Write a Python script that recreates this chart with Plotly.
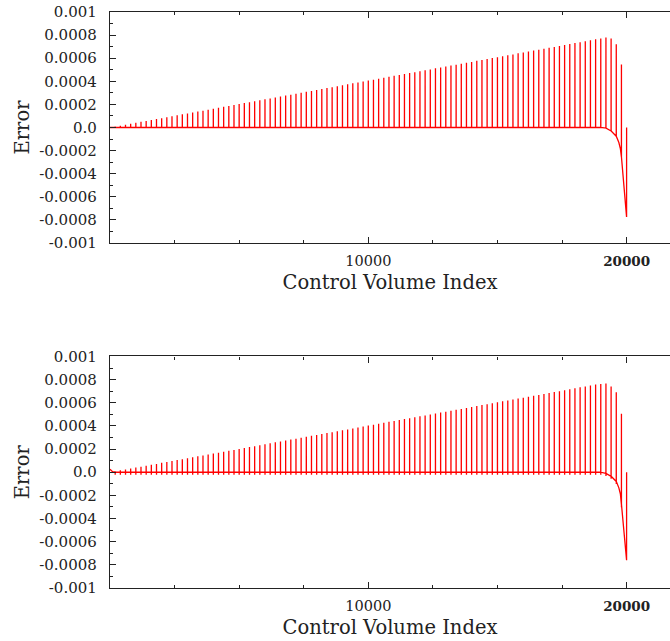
import plotly.graph_objects as go

# ---------------- data (error values in units of 1e-4) ----------------
spike_index = list(range(200, 19801, 200))   # control volume index of every spike (k = 1..99)

top_peaks_e4 = [
    0.08, 0.16, 0.24, 0.32, 0.41, 0.49, 0.57, 0.65, 0.73, 0.81,
    0.89, 0.97, 1.06, 1.14, 1.22, 1.30, 1.38, 1.46, 1.54, 1.62,
    1.71, 1.79, 1.87, 1.95, 2.03, 2.11, 2.19, 2.27, 2.36, 2.44,
    2.52, 2.60, 2.68, 2.76, 2.84, 2.92, 3.00, 3.09, 3.17, 3.25,
    3.33, 3.41, 3.49, 3.57, 3.65, 3.74, 3.82, 3.90, 3.98, 4.06,
    4.14, 4.22, 4.30, 4.39, 4.47, 4.55, 4.63, 4.71, 4.79, 4.87,
    4.95, 5.03, 5.12, 5.20, 5.28, 5.36, 5.44, 5.52, 5.60, 5.68,
    5.77, 5.85, 5.93, 6.01, 6.09, 6.17, 6.25, 6.33, 6.42, 6.50,
    6.58, 6.66, 6.74, 6.82, 6.90, 6.98, 7.06, 7.15, 7.23, 7.31,
    7.39, 7.47, 7.55, 7.63, 7.71, 7.80, 7.70, 7.20, 5.45,
]
top_spike_base_e4 = [0.0] * 95 + [-0.05, -0.30, -0.76, -2.55]
top_start_x = [0]
top_start_e4 = [0.0]
top_tail_x = [19700, 19760, 19999, 20000]
top_tail_e4 = [-1.30, -1.85, -7.75, 0.0]

bottom_peaks_e4 = [
    0.08, 0.16, 0.24, 0.32, 0.40, 0.48, 0.56, 0.64, 0.72, 0.81,
    0.89, 0.97, 1.05, 1.13, 1.21, 1.29, 1.37, 1.45, 1.53, 1.61,
    1.69, 1.77, 1.85, 1.93, 2.01, 2.09, 2.17, 2.25, 2.33, 2.42,
    2.50, 2.58, 2.66, 2.74, 2.82, 2.90, 2.98, 3.06, 3.14, 3.22,
    3.30, 3.38, 3.46, 3.54, 3.62, 3.70, 3.78, 3.86, 3.94, 4.03,
    4.11, 4.19, 4.27, 4.35, 4.43, 4.51, 4.59, 4.67, 4.75, 4.83,
    4.91, 4.99, 5.07, 5.15, 5.23, 5.31, 5.39, 5.47, 5.55, 5.64,
    5.72, 5.80, 5.88, 5.96, 6.04, 6.12, 6.20, 6.28, 6.36, 6.44,
    6.52, 6.60, 6.68, 6.76, 6.84, 6.92, 7.00, 7.08, 7.16, 7.25,
    7.33, 7.41, 7.49, 7.57, 7.62, 7.67, 7.40, 6.90, 5.05,
]
bottom_spike_base_e4 = [0.0] * 95 + [-0.10, -0.35, -0.80, -2.80]
bottom_dip_e4 = -0.22
bottom_start_x = [0, 100]
bottom_start_e4 = [0.25, 0.05]
bottom_tail_x = [19700, 19760, 19999, 20000]
bottom_tail_e4 = [-1.35, -1.90, -7.60, 0.0]

y_tick_vals = [0.001, 0.0008, 0.0006, 0.0004, 0.0002, 0.0, -0.0002, -0.0004, -0.0006, -0.0008, -0.001]
y_tick_text = ["0.001", "0.0008", "0.0006", "0.0004", "0.0002", "0.0",
               "-0.0002", "-0.0004", "-0.0006", "-0.0008", "-0.001"]
x_tick_vals = [10000, 20000]
x_tick_text = ["10000", "<span style='font-size:13.5px'><b>20000</b></span>"]

SCALE = 1e-4


def build(start_x, start_e4, peaks, bases, tail_x, tail_e4, dip=None):
    pts = list(zip(start_x, start_e4))
    for xi, h, b in zip(spike_index, peaks, bases):
        pts.append((xi - 1, b))
        pts.append((xi, h))
        if dip is not None:
            pts.append((xi + 1, b + dip))
            pts.append((xi + 2, b))
        else:
            pts.append((xi + 1, b))
    pts += list(zip(tail_x, tail_e4))
    pts.sort(key=lambda p: p[0])
    return [p[0] for p in pts], [p[1] * SCALE for p in pts]


tx, ty = build(top_start_x, top_start_e4, top_peaks_e4, top_spike_base_e4, top_tail_x, top_tail_e4)
bx, by = build(bottom_start_x, bottom_start_e4, bottom_peaks_e4, bottom_spike_base_e4,
               bottom_tail_x, bottom_tail_e4, dip=bottom_dip_e4)

FONT = "DejaVu Serif"
RED = "#ff0000"
INK = "#222222"
W, H = 670, 641

fig = go.Figure()
fig.add_trace(go.Scatter(x=tx, y=ty, mode="lines", line=dict(color=RED, width=1.3),
                         xaxis="x", yaxis="y", showlegend=False, hoverinfo="skip"))
fig.add_trace(go.Scatter(x=bx, y=by, mode="lines", line=dict(color=RED, width=1.3),
                         xaxis="x2", yaxis="y2", showlegend=False, hoverinfo="skip"))


def xaxis_cfg(anchor):
    return dict(
        anchor=anchor, domain=[0, 1], range=[0, 21680],
        tickvals=x_tick_vals, ticktext=x_tick_text,
        ticks="inside", ticklen=6, tickwidth=1.2, tickcolor=INK,
        minor=dict(tickmode="linear", tick0=0, dtick=2500, ticks="inside",
                   ticklen=3, tickwidth=1.2, tickcolor=INK, showgrid=False),
        showline=True, linecolor=INK, linewidth=1.4, mirror="ticks",
        showgrid=False, zeroline=False,
        tickfont=dict(family=FONT, size=14.5, color=INK),
        ticklabelstandoff=4,
        title=dict(text="Control Volume Index", font=dict(family=FONT, size=19.5, color=INK),
                   standoff=7),
    )


def yaxis_cfg(anchor, domain):
    return dict(
        anchor=anchor, domain=domain, range=[-0.001, 0.001],
        tickvals=y_tick_vals, ticktext=y_tick_text,
        ticks="inside", ticklen=6, tickwidth=1.2, tickcolor=INK,
        minor=dict(tickmode="linear", tick0=0, dtick=0.0001, ticks="inside",
                   ticklen=3, tickwidth=1.2, tickcolor=INK, showgrid=False),
        showline=True, linecolor=INK, linewidth=1.4,
        showgrid=False, zeroline=False,
        tickfont=dict(family=FONT, size=15, color=INK),
        ticklabelstandoff=9,
        title=dict(text="Error", font=dict(family=FONT, size=19.5, color=INK), standoff=4),
    )


fig.update_layout(
    width=W, height=H,
    margin=dict(l=110, r=0, t=12, b=53),
    paper_bgcolor="white", plot_bgcolor="white",
    xaxis=xaxis_cfg("y"),
    yaxis=yaxis_cfg("x", [0.599, 1.0]),
    xaxis2=xaxis_cfg("y2"),
    yaxis2=yaxis_cfg("x2", [0.0, 0.402]),
)

post = ("document.body.style.margin='0px';"
        "document.body.style.overflow='hidden';"
        "var gd=document.getElementById('{plot_id}');"
        "gd.style.width='%dpx';gd.style.height='%dpx';"
        "Plotly.relayout(gd,{width:%d,height:%d});" % (W, H, W, H))

fig.write_html("out.html", post_script=post,
               config={"responsive": False, "displayModeBar": False})
